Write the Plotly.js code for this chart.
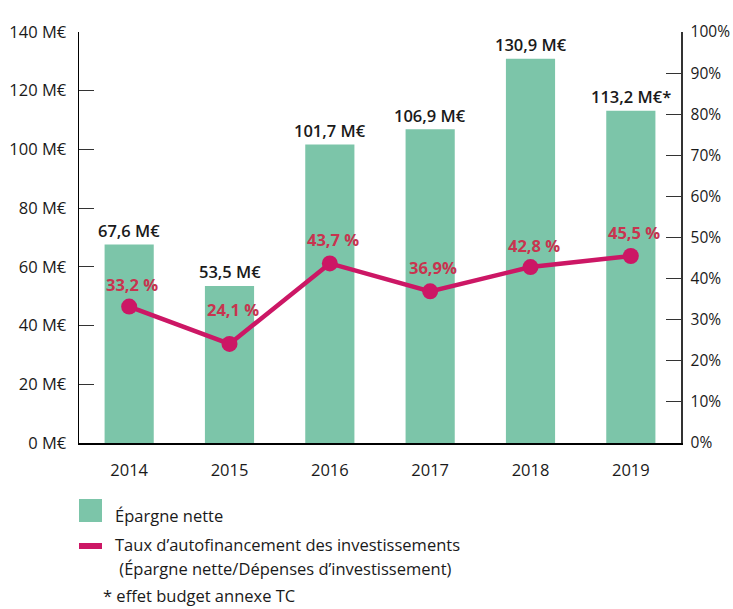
<!DOCTYPE html>
<html>
<head>
<meta charset="utf-8">
<script src="https://cdn.plot.ly/plotly-3.0.1.min.js"></script>
<style>html,body{margin:0;padding:0;background:#fff}#chart{width:733px;height:609px}</style>
</head>
<body>
<div id="chart"></div>
<script>
const years = ['2014', '2015', '2016', '2017', '2018', '2019'];
const epargne = [67.6, 53.5, 101.7, 106.9, 130.9, 113.2];
const epargneSuffix = ['', '', '', '', '', '*'];
const taux = [33.2, 24.1, 43.7, 36.9, 42.8, 45.5];
const tauxLabels = ['33,2 %', '24,1 %', '43,7 %', '36,9%', '42,8 %', '45,5 %'];
const tauxShift = [22, 34, 24, 24, 22, 24];
const leftTicks = [0, 20, 40, 60, 80, 100, 120, 140];
const rightTicks = [0, 10, 20, 30, 40, 50, 60, 70, 80, 90, 100];

const FONT = '"Open Sans", "DejaVu Sans", sans-serif';
const GREEN = '#7cc5a9';
const PINK = '#cc1765';
const RED = '#c8344f';
const DARK = '#1a1a1a';
const FS = 16.5;

const fmt = v => v.toFixed(1).replace('.', ',');

const traces = [
  {
    type: 'bar', x: years, y: epargne, yaxis: 'y',
    marker: {color: GREEN}, width: 0.49, showlegend: false, hoverinfo: 'skip'
  },
  {
    type: 'scatter', mode: 'lines+markers', x: years, y: taux, yaxis: 'y2',
    line: {color: PINK, width: 4.5}, marker: {color: PINK, size: 16},
    showlegend: false, hoverinfo: 'skip'
  }
];

const annotations = [];
years.forEach((yr, i) => {
  annotations.push({
    x: i, y: epargne[i], xref: 'x', yref: 'y',
    text: fmt(epargne[i]) + ' M€' + epargneSuffix[i],
    showarrow: false, yanchor: 'middle', yshift: 14,
    font: {family: FONT, size: FS, color: DARK, weight: 600}
  });
  annotations.push({
    x: i, y: taux[i], xref: 'x', yref: 'y2',
    text: tauxLabels[i],
    showarrow: false, yanchor: 'middle', yshift: tauxShift[i], xshift: 3,
    font: {family: FONT, size: FS, color: RED, weight: 'bold'}
  });
});

// custom legend
const legendText = [
  {text: 'Épargne nette', x: 113, y: 515},
  {text: 'Taux d’autofinancement des investissements', x: 113, y: 544},
  {text: ' (Épargne nette/Dépenses d’investissement)', x: 113, y: 568},
  {text: '* effet budget annexe TC', x: 101, y: 595}
];
legendText.forEach(t => {
  annotations.push({
    xref: 'paper', yref: 'paper',
    x: (t.x - 79) / 602, y: (443 - t.y) / 411,
    xanchor: 'left', yanchor: 'middle', showarrow: false,
    text: t.text, font: {family: FONT, size: FS, color: DARK}
  });
});

const px = v => (v - 79) / 602;
const py = v => (443 - v) / 411;
const shapes = [
  {type: 'rect', xref: 'paper', yref: 'paper', x0: px(79), x1: px(102), y0: py(522), y1: py(499),
   fillcolor: GREEN, line: {width: 0}},
  {type: 'rect', xref: 'paper', yref: 'paper', x0: px(79), x1: px(102), y0: py(549), y1: py(543),
   fillcolor: PINK, line: {width: 0}}
];

const layout = {
  width: 733, height: 609,
  margin: {l: 79, r: 52, t: 32, b: 166},
  paper_bgcolor: '#fff', plot_bgcolor: '#fff',
  separators: ', ',
  font: {family: FONT, size: FS, color: DARK},
  xaxis: {
    type: 'category', range: [-0.5, 5.5],
    showline: true, linecolor: '#000', linewidth: 1.5,
    ticks: '', showgrid: false, zeroline: false,
    tickfont: {family: FONT, size: FS, color: DARK}, ticklabelstandoff: 12
  },
  yaxis: {
    range: [0, 140], tickvals: leftTicks, ticktext: leftTicks.map(v => v + ' M€'),
    showline: true, linecolor: '#000', linewidth: 1.5,
    ticks: 'inside', ticklen: 15, tickcolor: '#333', tickwidth: 1,
    showgrid: false, zeroline: false,
    tickfont: {family: FONT, size: FS, color: DARK}, ticklabelstandoff: 8
  },
  yaxis2: {
    range: [0, 100], overlaying: 'y', side: 'right',
    tickvals: rightTicks, ticktext: rightTicks.map(v => v + '%'),
    showline: true, linecolor: '#333', linewidth: 1.5,
    ticks: 'inside', ticklen: 15, tickcolor: '#333', tickwidth: 1,
    showgrid: false, zeroline: false,
    tickfont: {family: FONT, size: 15.5, color: DARK}, ticklabelstandoff: 5
  },
  annotations: annotations,
  shapes: shapes,
  showlegend: false
};

Plotly.newPlot('chart', traces, layout, {staticPlot: true, displayModeBar: false});
</script>
</body>
</html>
